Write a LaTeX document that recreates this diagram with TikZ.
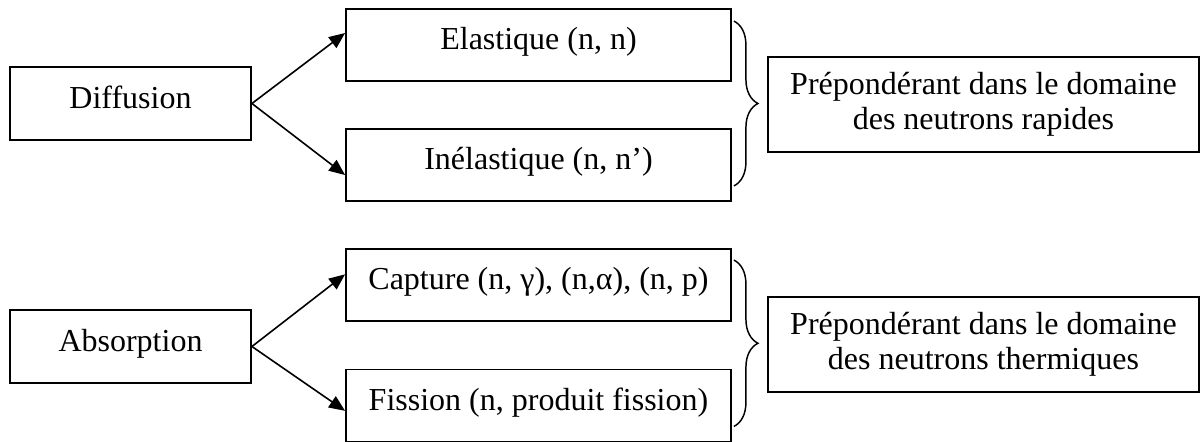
\documentclass[tikz,border=0pt]{standalone}
\usepackage{fontspec}
\setmainfont{Liberation Serif}
\usetikzlibrary{arrows.meta,decorations.pathreplacing}

\tikzset{
  box/.style={draw,line width=1.4pt,text height=16pt,text depth=8.8pt,
    font=\fontsize{24}{26.25}\selectfont,inner sep=0pt},
  kind/.style={box,minimum width=180.75pt,minimum height=54.75pt},
  reaction/.style={box,minimum width=288.75pt,minimum height=54pt},
  regime/.style={draw,line width=1.4pt,align=center,inner sep=0pt,
    font=\fontsize{24}{26.25}\selectfont,minimum width=323.25pt,minimum height=71.25pt},
  branch/.style={line width=1.2pt,-{Triangle[length=12pt,width=10pt]}},
  group/.style={line width=1.1pt,decorate,decoration={brace,amplitude=18pt}}
}

\begin{document}
\begin{tikzpicture}[x=0.75pt,y=-0.75pt]
    \useasboundingbox (0,0) rectangle (1200,442);
    \node[kind] (diffusion) at (130.5,103.5) {Diffusion};
    \node[reaction] (elastique) at (538.5,45) {Elastique (n, n)};
    \node[reaction] (inelastique) at (538.5,165) {Inélastique (n, n’)};
    \node[regime] (rapides) at (983.5,104.5) {Prépondérant dans le domaine\\des neutrons rapides};
    \node[kind] (absorption) at (130.5,346.5) {Absorption};
    \node[reaction] (capture) at (538.5,285) {Capture (n, γ), (n,α), (n, p)};
    \node[reaction] (fission) at (538.5,405.5) {Fission (n, produit fission)};
    \node[regime] (thermiques) at (983.5,344.5) {Prépondérant dans le domaine\\des neutrons thermiques};
    \draw[branch] (diffusion.east) -- ([yshift=9pt]elastique.west);
    \draw[branch] (diffusion.east) -- ([yshift=-7.5pt]inelastique.west);
    \draw[branch] (absorption.east) -- ([yshift=8pt]capture.west);
    \draw[branch] (absorption.east) -- ([yshift=-4pt]fission.west);
    \draw[group] ([shift={(2,13)}]elastique.north east) -- ([shift={(2,-16)}]inelastique.south east);
    \draw[group] ([shift={(2,12)}]capture.north east) -- ([shift={(2,-16)}]fission.south east);
\end{tikzpicture}
\end{document}
